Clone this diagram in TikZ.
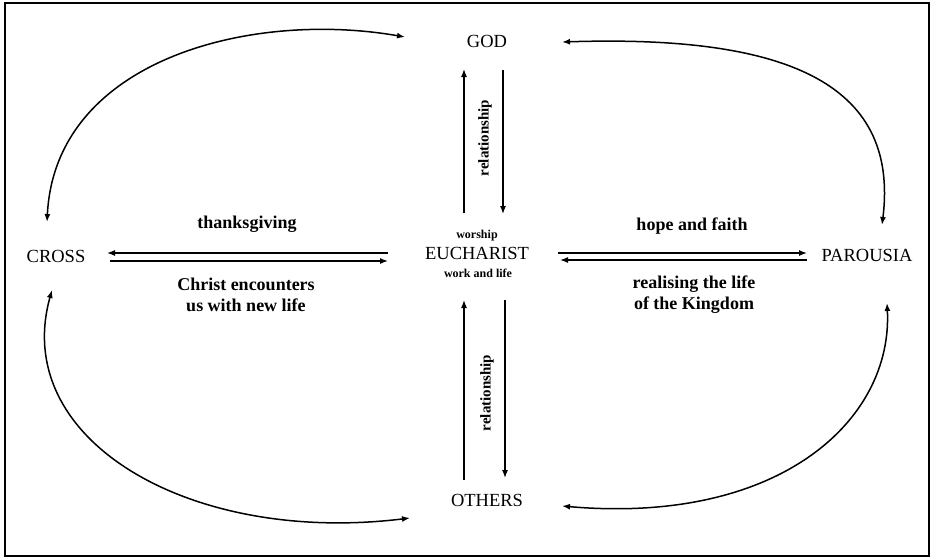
\documentclass[tikz,border=0pt]{standalone}
\usepackage{fontspec}
\setmainfont{Liberation Serif}
\usetikzlibrary{arrows.meta,calc}
\tikzset{
  concept/.style={inner sep=0pt,font=\fontsize{18.5}{20}\selectfont},
  lbl/.style={inner sep=0pt,font=\fontsize{18}{21}\selectfont\bfseries,align=center},
  small/.style={inner sep=0pt,font=\fontsize{12}{13}\selectfont\bfseries},
  rel/.style={inner sep=0pt,font=\fontsize{15}{16}\selectfont\bfseries,rotate=90},
  arc/.style={line width=1.5pt,-{Latex[length=8pt,width=6pt]}},
  arcboth/.style={line width=1.5pt,{Latex[length=8pt,width=6pt]}-{Latex[length=8pt,width=6pt]}},
  straight/.style={line width=1.3pt,-{Latex[length=8pt,width=6pt]}}
}
\begin{document}
\begin{tikzpicture}[x=1pt,y=-1pt]
\useasboundingbox (0,0) rectangle (934,558);
\fill[white] (0,0) rectangle (934,558);
\draw[line width=2.5pt] (5,3) rectangle (929,556);

% main nodes
\node[concept] (cross) at (56,256) {CROSS};
\node[concept] (god) at (487,41) {GOD};
\node[concept] (euch) at (477,253) {EUCHARIST};
\node[concept] (par) at (867,255) {PAROUSIA};
\node[concept] (oth) at (487,500) {OTHERS};

% small labels
\node[small] (worship) at (477,236) {worship};
\node[small] (work) at (478,273) {work and life};

% arrow labels
\node[lbl] (thanks) at (247,224) {thanksgiving};
\node[lbl] (christ) at (246,295) {Christ encounters\\us with new life};
\node[lbl] (hope) at (692,226) {hope and faith};
\node[lbl] (realise) at (694,295) {realising the life\\of the Kingdom};
\node[rel] (relup) at (485,138) {relationship};
\node[rel] (reldown) at (487,393) {relationship};

% curved connectors
\draw[arcboth] ($(cross.center)+(-9,-34)$) .. controls (55,60) and (250,10) .. ($(god.center)+(-82,-4)$);
\draw[arcboth] ($(cross.center)+(-4,34)$) .. controls (10,440) and (190,545) .. ($(oth.center)+(-77,18)$);
\draw[arcboth] ($(god.center)+(75,1)$) .. controls (780,35) and (900,80) .. ($(par.center)+(15,-30)$);
\draw[arcboth] ($(par.center)+(20,48)$) .. controls (893,420) and (780,525) .. ($(oth.center)+(75,6)$);

% horizontal pairs
\draw[straight] ($(euch.center)+(-89,0)$) -- ($(cross.center)+(51,-3)$);
\draw[straight] ($(cross.center)+(54,5)$) -- ($(euch.center)+(-89,8)$);
\draw[straight] ($(euch.center)+(81,0)$) -- ($(par.center)+(-60,-2)$);
\draw[straight] ($(par.center)+(-60,5)$) -- ($(euch.center)+(83,7)$);

% vertical pairs
\draw[straight] ($(euch.center)+(-13,-40)$) -- ($(god.center)+(-23,28)$);
\draw[straight] ($(god.center)+(16,29)$) -- ($(euch.center)+(26,-39)$);
\draw[straight] ($(oth.center)+(-23,-20)$) -- ($(euch.center)+(-13,47)$);
\draw[straight] ($(euch.center)+(28,47)$) -- ($(oth.center)+(18,-22)$);
\end{tikzpicture}
\end{document}
